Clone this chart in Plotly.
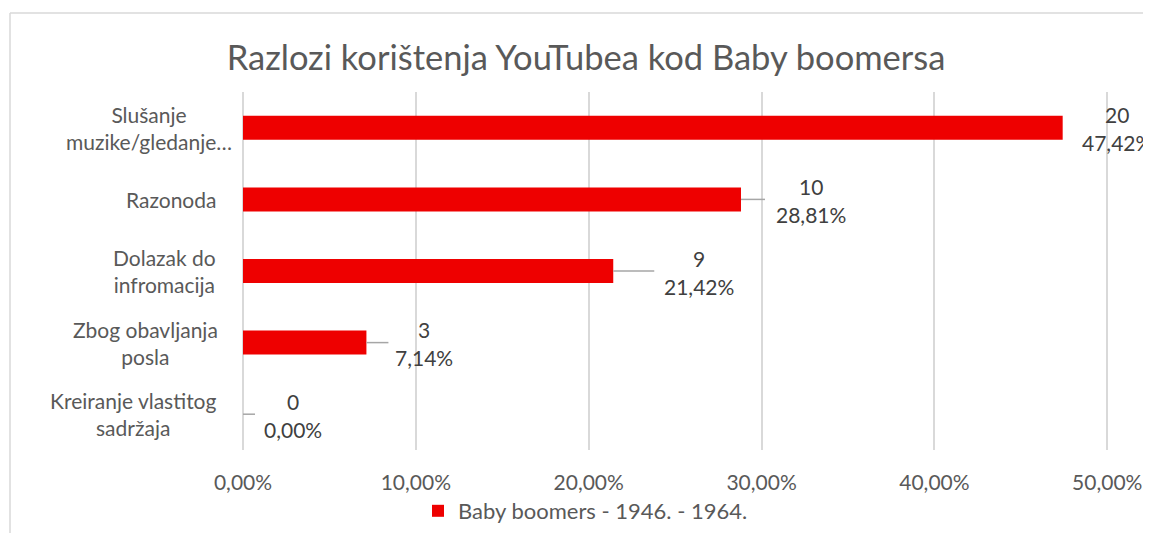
import plotly.graph_objects as go

categories = ["Slušanje muzike/gledanje…", "Razonoda", "Dolazak do infromacija",
              "Zbog obavljanja posla", "Kreiranje vlastitog sadržaja"]
category_labels = ["Slušanje<br>muzike/gledanje…", "Razonoda", "Dolazak do<br>infromacija",
                   "Zbog obavljanja<br>posla", "Kreiranje vlastitog<br>sadržaja"]
counts = [20, 10, 9, 3, 0]
percents = [47.42, 28.81, 21.42, 7.14, 0.00]
series_name = "Baby boomers - 1946. - 1964."
title = "Razlozi korištenja YouTubea kod Baby boomersa"
x_max = 0.501  # axis range end (ticks up to 50,00%)

# style offsets (pixels)
label_offsets = [54, 70, 86, 58, 50]
leader_lengths = [0, 24, 41, 22, 12]
cat_label_shift = [-9, -25, -25, -23, -25]

FONT = "Lato"
GRAY = "#595959"
DARK = "#404040"

# figure sized to fit inside the page body (8px default body margin)
W, H = 1135, 525
L, R, T, B = 235, 34, 84, 83
PW = W - L - R
PH = H - T - B

fig = go.Figure()
fig.add_trace(go.Bar(
    x=[p / 100 for p in percents], y=categories, orientation="h",
    marker=dict(color="#EE0000", line=dict(width=0)), name=series_name, showlegend=True,
))

annotations = []
shapes = []
for cat, lab, sh in zip(categories, category_labels, cat_label_shift):
    annotations.append(dict(
        x=0, xref="paper", y=cat, yref="y", xshift=sh, xanchor="right", yanchor="middle",
        text=lab, align="center", showarrow=False,
        font=dict(family=FONT, size=21, color=GRAY)))

for i, (cat, c, p) in enumerate(zip(categories, counts, percents)):
    pct_txt = f"{p:.2f}%".replace(".", ",")
    for txt, ysh in ((str(c), 13), (pct_txt, -15)):
        annotations.append(dict(
            x=p / 100, y=cat, xref="x", yref="y", xshift=label_offsets[i], yshift=ysh,
            text=txt, showarrow=False, xanchor="center", yanchor="middle",
            font=dict(family=FONT, size=21, color=DARK)))
    if leader_lengths[i] > 0:
        shapes.append(dict(
            type="line", xref="x", yref="y", xsizemode="pixel", xanchor=p / 100,
            x0=0, x1=leader_lengths[i], y0=cat, y1=cat,
            line=dict(color="#a6a6a6", width=1.5)))

# chart-area border (left and top edges visible in the reference)
bx = (2 - L) / PW
by = (T + PH - 5) / PH
shapes.append(dict(type="line", xref="paper", yref="paper", x0=bx, x1=1.2, y0=by, y1=by,
                   line=dict(color="#d9d9d9", width=1.5), layer="below"))
shapes.append(dict(type="line", xref="paper", yref="paper", x0=bx, x1=bx, y0=-0.5, y1=by,
                   line=dict(color="#d9d9d9", width=1.5), layer="below"))

fig.update_layout(
    width=W, height=H,
    margin=dict(l=L, r=R, t=T, b=B, autoexpand=False),
    paper_bgcolor="white", plot_bgcolor="white",
    separators=",.",
    title=dict(text=title, x=578 / W, xanchor="center", y=1 - 50 / H, yanchor="middle",
               font=dict(family=FONT, size=34.5, color=GRAY)),
    bargap=0.665,
    xaxis=dict(range=[0, x_max], tick0=0, dtick=0.1, tickformat=".2%", showgrid=True,
               automargin=False, ticklabeloverflow="allow",
               gridcolor="#d9d9d9", gridwidth=1.5, zeroline=True, zerolinecolor="#d9d9d9",
               zerolinewidth=1.5, showline=False, ticks="", ticklabelstandoff=18,
               tickfont=dict(family=FONT, size=21, color=GRAY), fixedrange=True),
    yaxis=dict(autorange="reversed", showticklabels=False, showgrid=False, automargin=False,
               zeroline=False, showline=False, ticks=""),
    legend=dict(orientation="h", xref="container", yref="container",
                x=410 / W, xanchor="left", y=1 - 503 / H, yanchor="middle",
                bgcolor="rgba(0,0,0,0)",
                font=dict(family=FONT, size=22, color=GRAY), itemwidth=30),
    annotations=annotations,
    shapes=shapes,
)

fig.write_html("out.html")
